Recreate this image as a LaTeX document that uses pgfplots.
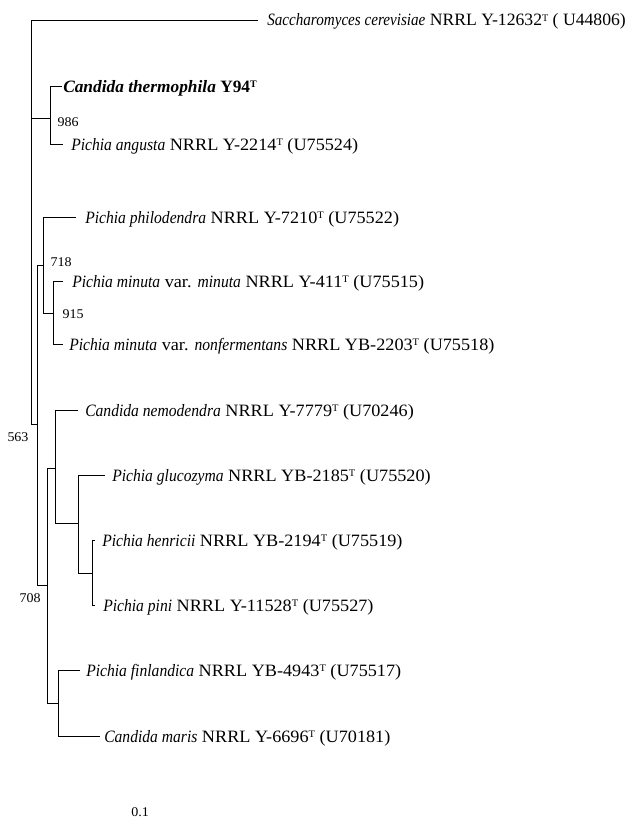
\documentclass[border=0pt]{standalone}
\usepackage{pgfplots}
\pgfplotsset{compat=1.18}
\usepackage{fontspec}
\setmainfont{Liberation Serif}[UprightFeatures={FakeStretch=1.05}, ItalicFeatures={FakeStretch=0.9}]
\newcommand{\tsup}{\raisebox{3.6pt}{\fontsize{7.5}{8}\selectfont T}}
\tikzset{
  br/.style={black, line width=0.75pt},
  spn/.style={anchor=base west, font=\fontsize{13}{15}\selectfont, inner sep=0pt},
  lbn/.style={anchor=center, font=\fontsize{10}{12}\selectfont, inner sep=0pt},
}
\begin{document}
\begin{tikzpicture}
\begin{axis}[
  scale only axis, width=470.25pt, height=621pt,
  xmin=0, xmax=627, ymin=0, ymax=828, y dir=reverse,
  hide axis, clip=false,
]
\addplot[draw=none] coordinates {(0,0) (627,828)};
% root
\addplot[br, no marks] coordinates {(258,20) (31,20) (31,424) (37,424)};
\addplot[br, no marks] coordinates {(31,118) (50,118)};
% clade 986
\addplot[br, no marks] coordinates {(62,86) (50,86) (50,144) (63,144)};
% node 563
\addplot[br, no marks] coordinates {(43,265) (37,265) (37,585) (47,585)};
% node 718
\addplot[br, no marks] coordinates {(76,217) (43,217) (43,313) (53,313)};
% node 915
\addplot[br, no marks] coordinates {(63,281) (53,281) (53,344) (63,344)};
% node 708
\addplot[br, no marks] coordinates {(55,468) (47,468) (47,703) (58,703)};
% nemodendra clade
\addplot[br, no marks] coordinates {(78,410) (55,410) (55,523) (78,523)};
\addplot[br, no marks] coordinates {(105,475) (78,475) (78,573) (92,573)};
\addplot[br, no marks] coordinates {(95,540) (92,540) (92,605) (95,605)};
% finlandica / maris
\addplot[br, no marks] coordinates {(80,670) (58,670) (58,736) (100,736)};

\node[spn] at (axis cs:267,26) {\scalebox{0.97}[1]{\textit{Saccharomyces cerevisiae} NRRL Y-12632\tsup\ ( U44806)}};
\node[spn] at (axis cs:63,92) {\textbf{\textit{Candida thermophila} Y94\tsup}};
\node[spn] at (axis cs:71,150) {\textit{Pichia angusta} NRRL Y-2214\tsup\ (U75524)};
\node[spn] at (axis cs:85,223) {\textit{Pichia philodendra} NRRL Y-7210\tsup\ (U75522)};
\node[spn] at (axis cs:72,287) {\textit{Pichia minuta} var. \textit{minuta} NRRL Y-411\tsup\ (U75515)};
\node[spn] at (axis cs:69,350) {\textit{Pichia minuta} var. \textit{nonfermentans} NRRL YB-2203\tsup\ (U75518)};
\node[spn] at (axis cs:85,416) {\textit{Candida nemodendra} NRRL Y-7779\tsup\ (U70246)};
\node[spn] at (axis cs:112,481) {\textit{Pichia glucozyma} NRRL YB-2185\tsup\ (U75520)};
\node[spn] at (axis cs:102,546) {\textit{Pichia henricii} NRRL YB-2194\tsup\ (U75519)};
\node[spn] at (axis cs:103,611) {\textit{Pichia pini} NRRL Y-11528\tsup\ (U75527)};
\node[spn] at (axis cs:86,676) {\textit{Pichia finlandica} NRRL YB-4943\tsup\ (U75517)};
\node[spn] at (axis cs:104,742) {\textit{Candida maris} NRRL Y-6696\tsup\ (U70181)};

\node[lbn] at (axis cs:68,122) {986};
\node[lbn] at (axis cs:61,262) {718};
\node[lbn] at (axis cs:73,314) {915};
\node[lbn] at (axis cs:18,437) {563};
\node[lbn] at (axis cs:30,598) {708};
\node[lbn] at (axis cs:140,812) {0.1};
\end{axis}
\end{tikzpicture}
\end{document}
